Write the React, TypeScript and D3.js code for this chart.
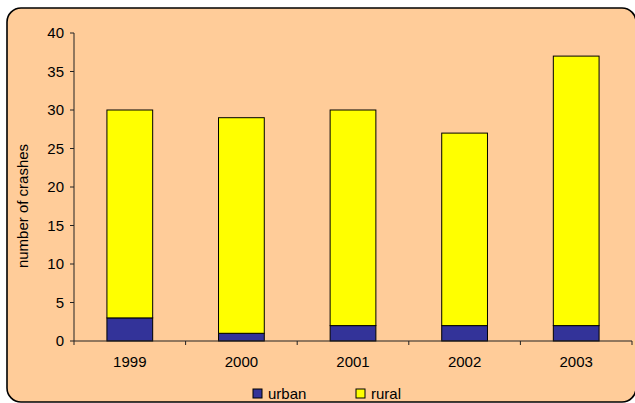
import React from "react";
import * as d3 from "d3";

const years = ["1999", "2000", "2001", "2002", "2003"];
const urban = [3, 1, 2, 2, 2];
const rural = [27, 28, 28, 25, 35];
const yTicks = [0, 5, 10, 15, 20, 25, 30, 35, 40];
const seriesNames = ["urban", "rural"];
const seriesColors = ["#333399", "#FFFF00"];

const W = 635;
const H = 403;
const plot = { left: 74, right: 632, top: 33, bottom: 341 };
const font = "'Liberation Sans', Arial, sans-serif";

export default function App() {
  const x = d3.scaleBand<string>().domain(years).range([plot.left, plot.right]).paddingInner(0.59).paddingOuter(0.295);
  const band = d3.scaleBand<string>().domain(years).range([plot.left, plot.right]);
  const y = d3.scaleLinear().domain([0, 40]).range([plot.bottom, plot.top]);

  const stacked = d3.stack<number>().keys(["0", "1"]).value((i, k) => (k === "0" ? urban[i] : rural[i]))(d3.range(years.length));

  return (
    <svg width={W} height={H} style={{ position: "absolute", left: 0, top: 0 }} fontFamily={font}>
      <rect x={7} y={8} width={629} height={394} rx={14} ry={14} fill="#FFCC99" stroke="#000" strokeWidth={1.6} />
      {stacked.map((layer, si) =>
        layer.map((d, i) => (
          <rect
            key={`${si}-${i}`}
            x={x(years[i])!}
            y={y(d[1])}
            width={x.bandwidth()}
            height={y(d[0]) - y(d[1])}
            fill={seriesColors[si]}
            stroke="#000"
            strokeWidth={1}
          />
        ))
      )}
      {/* y axis */}
      <line x1={plot.left} x2={plot.left} y1={plot.top} y2={plot.bottom} stroke="#222" strokeWidth={1} />
      {yTicks.map((t) => (
        <g key={t}>
          <line x1={plot.left - 4} x2={plot.left} y1={y(t)} y2={y(t)} stroke="#222" />
          <text x={plot.left - 10} y={y(t)} dy="0.36em" textAnchor="end" fontSize={15} fill="#000">
            {t}
          </text>
        </g>
      ))}
      {/* x axis */}
      <line x1={plot.left} x2={plot.right} y1={plot.bottom} y2={plot.bottom} stroke="#222" />
      {years.map((yr) => (
        <line key={`t${yr}`} x1={band(yr)! + band.bandwidth()} x2={band(yr)! + band.bandwidth()} y1={plot.bottom} y2={plot.bottom + 4} stroke="#222" />
      ))}
      <line x1={plot.left} x2={plot.left} y1={plot.bottom} y2={plot.bottom + 4} stroke="#222" />
      {years.map((yr) => (
        <text key={yr} x={band(yr)! + band.bandwidth() / 2} y={367} textAnchor="middle" fontSize={15} fill="#000">
          {yr}
        </text>
      ))}
      <text transform="translate(28,206) rotate(-90)" textAnchor="middle" fontSize={15} fill="#000">
        number of crashes
      </text>
      {/* legend */}
      {seriesNames.map((name, i) => (
        <g key={name} transform={`translate(${253 + i * 103},389)`}>
          <rect x={0} y={0} width={9} height={9} fill={seriesColors[i]} stroke="#000" strokeWidth={1} />
          <text x={15} y={9.5} fontSize={15} fill="#000">
            {name}
          </text>
        </g>
      ))}
    </svg>
  );
}
